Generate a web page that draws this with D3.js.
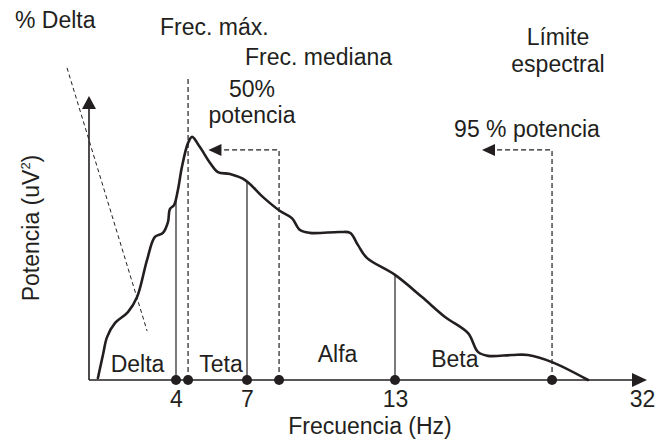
<!DOCTYPE html>
<html>
<head>
<meta charset="utf-8">
<script src="https://cdn.jsdelivr.net/npm/d3@7"></script>
<style>
  html, body { margin: 0; padding: 0; background: #fff; }
  svg { display: block; }
  text { font-family: "Liberation Sans", Arial, Helvetica, sans-serif; fill: #231f20; }
</style>
</head>
<body>
<svg id="chart" width="670" height="439"></svg>
<script>
// ---- data ----
const freqHz = [0.41, 0.64, 0.83, 1.20, 1.79, 2.21, 2.67, 3.03, 3.40, 3.63, 3.72, 3.91, 4.08, 4.25, 4.51, 4.68,
  5.01, 5.44, 5.77, 6.28, 6.92, 7.65, 8.34, 8.82, 9.15, 9.55, 10.77, 11.18, 11.50, 11.86, 13.0, 15.08,
  16.85, 18.62, 19.38, 20.15, 22.0, 23.23, 25.08, 27.85];
const power = [0.7, 8.8, 15.1, 20.1, 23.9, 29.2, 42.3, 50.4, 51.8, 55.6, 60.2, 61.6, 66.9, 75.0, 83.5, 85.6,
  82.0, 76.4, 73.2, 72.5, 70.4, 64.4, 59.5, 57.0, 52.8, 51.8, 52.1, 51.8, 47.5, 43.0, 37.0, 29.2,
  22.2, 16.5, 9.9, 8.5, 8.8, 8.8, 6.3, 0];
const tickValues = [4, 7, 13, 32];
const bandEdges = [4, 7, 13];
const bandNames = ["Delta", "Teta", "Alfa", "Beta"];
const peakFreq = 4.51;      // Frec. máx.
const medianFreq = 8.3;     // Frec. mediana
const edgeFreq = 25.08;     // Límite espectral
const deltaTrendHz = [-1.01, 2.67];
const deltaTrendPow = [109.9, 17.3];

// ---- scales ----
const x = d3.scaleLinear().domain([0, 4, 7, 13, 32]).range([89, 176, 247, 395, 642]);
const y = d3.scaleLinear().domain([0, 100]).range([380, 96]);

const svg = d3.select("#chart");
const ink = "#231f20";
const curvePts = freqHz.map((f, i) => [f, power[i]]);
function powerAt(f) {
  for (let i = 1; i < curvePts.length; i++) {
    if (curvePts[i][0] >= f) {
      const [f0, p0] = curvePts[i - 1], [f1, p1] = curvePts[i];
      return p0 + (p1 - p0) * (f - f0) / (f1 - f0);
    }
  }
  return 0;
}

// diagonal dashed % Delta line
svg.append("line")
  .attr("x1", x(deltaTrendHz[0])).attr("y1", y(deltaTrendPow[0]))
  .attr("x2", x(deltaTrendHz[1])).attr("y2", y(deltaTrendPow[1]))
  .attr("stroke", ink).attr("stroke-width", 1).attr("stroke-dasharray", "4,3");

// band edge solid verticals
svg.selectAll("line.band").data(bandEdges).join("line")
  .attr("class", "band")
  .attr("x1", d => x(d)).attr("x2", d => x(d))
  .attr("y1", y(0)).attr("y2", d => y(powerAt(d)))
  .attr("stroke", ink).attr("stroke-width", 1.2);

// dashed markers
const dash = "5,3";
svg.append("line")
  .attr("x1", x(peakFreq)).attr("x2", x(peakFreq))
  .attr("y1", y(0)).attr("y2", y(106))
  .attr("stroke", ink).attr("stroke-width", 1.2).attr("stroke-dasharray", dash);

function arrowBack(fromF, toF, lvl) {
  const p = d3.path();
  p.moveTo(x(fromF), y(0));
  p.lineTo(x(fromF), y(lvl));
  p.lineTo(x(toF) + 11, y(lvl));
  svg.append("path").attr("d", p.toString()).attr("fill", "none")
    .attr("stroke", ink).attr("stroke-width", 1.2).attr("stroke-dasharray", dash);
  const tx = x(toF), ty = y(lvl);
  svg.append("path")
    .attr("d", `M${tx},${ty} L${tx + 13},${ty - 6} L${tx + 13},${ty + 6} Z`)
    .attr("fill", ink);
}
arrowBack(medianFreq, 5.37, 81);
arrowBack(edgeFreq, 19.69, 81);

// curve
svg.append("path")
  .datum(curvePts)
  .attr("d", d3.line().x(d => x(d[0])).y(d => y(d[1])).curve(d3.curveCatmullRom.alpha(0.5)))
  .attr("fill", "none").attr("stroke", ink).attr("stroke-width", 2.6)
  .attr("stroke-linejoin", "round").attr("stroke-linecap", "round");

// axes
svg.append("line").attr("x1", x(0)).attr("x2", x(32) - 8).attr("y1", y(0)).attr("y2", y(0))
  .attr("stroke", ink).attr("stroke-width", 1.6);
svg.append("path")
  .attr("d", `M${x(32) + 5},${y(0)} L${x(32) - 10},${y(0) - 7} L${x(32) - 10},${y(0) + 7} Z`)
  .attr("fill", ink);
svg.append("line").attr("x1", x(0)).attr("x2", x(0)).attr("y1", y(0)).attr("y2", y(100) + 8)
  .attr("stroke", ink).attr("stroke-width", 1.6);
svg.append("path")
  .attr("d", `M${x(0)},${y(100)} L${x(0) - 7},${y(100) + 13} L${x(0) + 7},${y(100) + 13} Z`)
  .attr("fill", ink);

const fs = 23;
const xAxis = d3.axisBottom(x).tickValues(tickValues).tickSize(0).tickPadding(11).tickFormat(d3.format("d"));
const gx = svg.append("g").attr("transform", `translate(0,${y(0)})`).call(xAxis);
gx.select(".domain").remove();
gx.selectAll("text").attr("font-size", fs).attr("fill", ink)
  .style("font-family", '"Liberation Sans", Arial, sans-serif');

// dots
svg.selectAll("circle.dot").data([4, peakFreq, 7, medianFreq, 13, edgeFreq]).join("circle")
  .attr("class", "dot")
  .attr("cx", d => x(d)).attr("cy", y(0)).attr("r", 5).attr("fill", ink);

// text
function label(txt, xx, yy, anchor = "start") {
  return svg.append("text").attr("x", xx).attr("y", yy).attr("font-size", fs)
    .attr("text-anchor", anchor).text(txt);
}
label("% Delta", 15, 28);
label("Frec. máx.", 160, 35);
label("Frec. mediana", 245, 65);
label("50%", 252, 97, "middle");
label("potencia", 252, 123, "middle");
label("Límite", 558, 45, "middle");
label("espectral", 558, 72, "middle");
label("95 % potencia", 527, 137, "middle");
label("Frecuencia (Hz)", 370, 433.5, "middle");

const bandLabelHz = [2.23, 5.9, 10.67, 17.6];
const bandLabelY = [372, 372, 362, 367];
bandNames.forEach((n, i) => label(n, x(bandLabelHz[i]), bandLabelY[i], "middle"));

const yl = svg.append("text").attr("transform", "translate(39,228) rotate(-90)")
  .attr("font-size", fs).attr("text-anchor", "middle");
yl.append("tspan").text("Potencia (uV");
yl.append("tspan").attr("font-size", 13).attr("dy", -9).text("2");
yl.append("tspan").attr("dy", 9).text(")");
</script>
</body>
</html>
